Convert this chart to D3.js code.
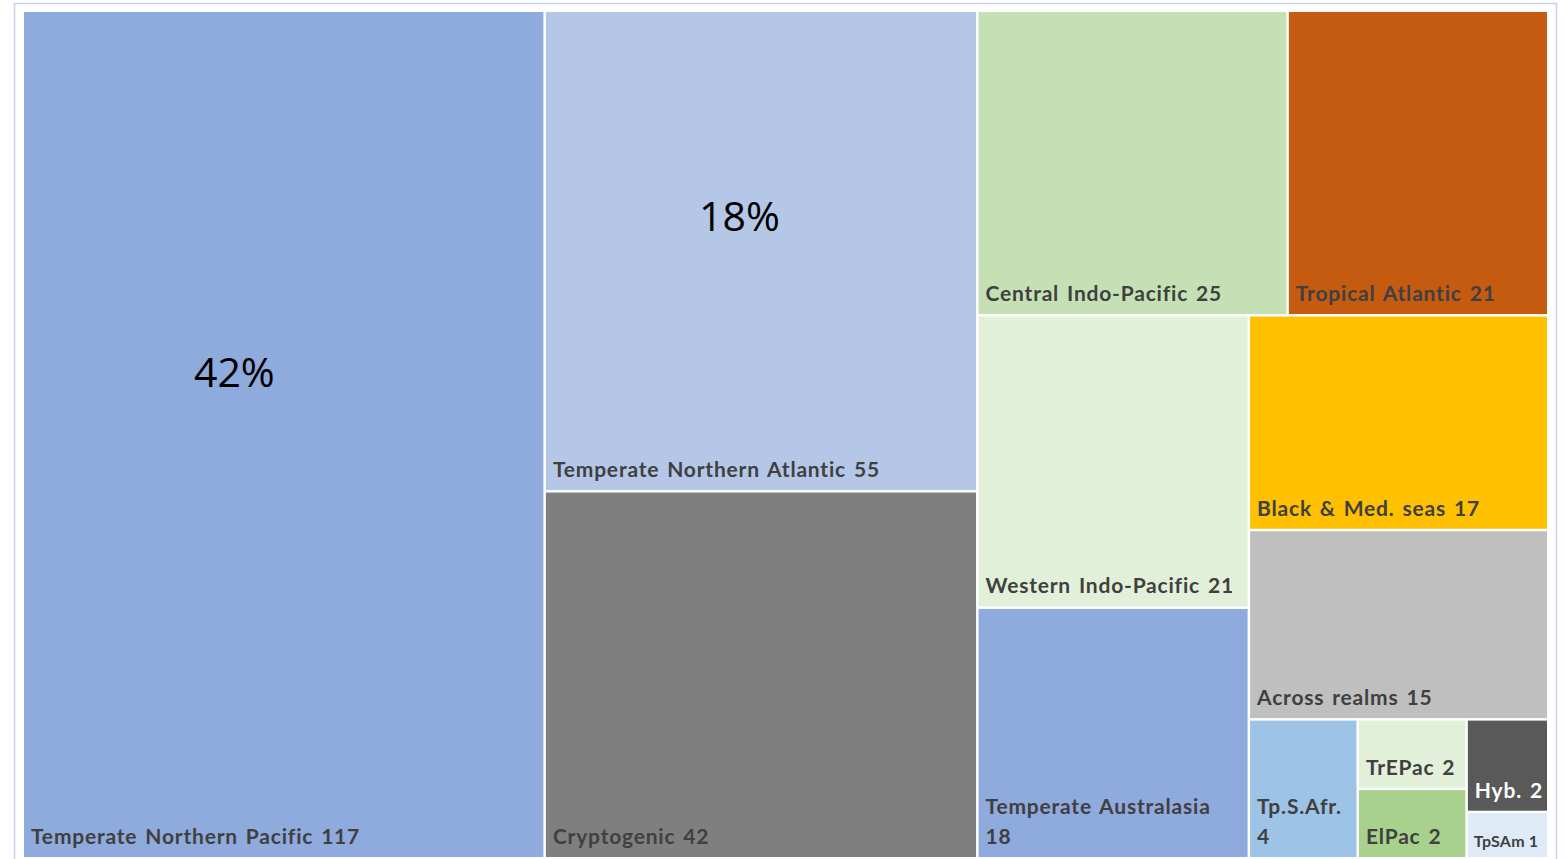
<!DOCTYPE html>
<html><head><meta charset="utf-8">
<script src="https://cdn.jsdelivr.net/npm/d3@7"></script>
<style>body{margin:0;background:#fff;} svg{display:block;}</style>
</head><body>
<svg id="chart" width="1565" height="859"></svg>
<script>
const categories = ["Temperate Northern Pacific","Temperate Northern Atlantic","Cryptogenic","Central Indo-Pacific","Tropical Atlantic","Western Indo-Pacific","Temperate Australasia","Black & Med. seas","Across realms","Tp.S.Afr.","TrEPac","ElPac","Hyb.","TpSAm"];
const values = [117,55,42,25,21,21,18,17,15,4,2,2,2,1];
const colors = ["#8FAADC","#B4C7E7","#7F7F7F","#C5E0B4","#C55A11","#E2F0D9","#8FAADC","#FFC000","#BFBFBF","#9DC3E6","#E2F0D9","#A9D18E","#595959","#DEEBF7"];
const wrappedLabels = ["Temperate Australasia","Tp.S.Afr."];
const percentLabels = [{cat:"Temperate Northern Pacific", text:"42%"},{cat:"Temperate Northern Atlantic", text:"18%"}];

const svg = d3.select("#chart");
svg.append("rect").attr("x",14.5).attr("y",3.5).attr("width",1542).attr("height",870)
  .attr("fill","#fff").attr("stroke","#C8D2E4").attr("stroke-width",1.5);

const data = {children: categories.map((c,i)=>({name:c, value:values[i], color:colors[i]}))};
const root = d3.hierarchy(data).sum(d=>d.value||0);
d3.treemap().tile(d3.treemapSquarify.ratio(1)).size([1523,845]).paddingInner(2.5)(root);

const g = svg.append("g").attr("transform","translate(24,12)");
const leaves = root.leaves();
const cell = g.selectAll("g.cell").data(leaves).join("g").attr("class","cell");
cell.append("rect").attr("x",d=>d.x0).attr("y",d=>d.y0)
  .attr("width",d=>d.x1-d.x0).attr("height",d=>d.y1-d.y0).attr("fill",d=>d.data.color);

cell.each(function(d){
  const sel = d3.select(this);
  const small = d.data.name==="TpSAm";
  const fs = small?16:21;
  const t = sel.append("text").attr("font-family","Lato, 'Open Sans', sans-serif")
    .attr("font-weight","bold").attr("font-size",fs)
    .attr("fill", d.data.name==="Hyb." ? "#ffffff" : "#404040")
    .attr("letter-spacing", small?0.2:0.8)
    .attr("word-spacing", small?0:2);
  const x = d.x0 + (small?6:7);
  if (wrappedLabels.includes(d.data.name)) {
    t.append("tspan").attr("x",x).attr("y",d.y1-43).text(d.data.name);
    t.append("tspan").attr("x",x).attr("y",d.y1-13).text(d.data.value);
  } else {
    t.attr("x",x).attr("y", d.y1-(small?10:13)).text(d.data.name + " " + d.data.value);
  }
});

percentLabels.forEach(p=>{
  const d = leaves.find(l=>l.data.name===p.cat);
  const w = d.x1-d.x0;
  const cx = p.cat==="Temperate Northern Pacific" ? d.x0 + w*0.405 : d.x0 + w*0.45;
  const cy = p.cat==="Temperate Northern Pacific" ? 375 : 219;
  g.append("text").attr("x",cx).attr("y",cy).attr("text-anchor","middle")
    .attr("font-family","'Open Sans', Lato, sans-serif").attr("font-size",41).attr("fill","#000").text(p.text);
});
</script>
</body></html>
